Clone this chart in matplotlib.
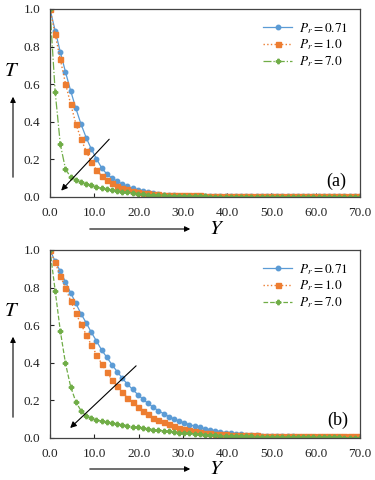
"""
Temperature profiles T(Y) for three Prandtl numbers, panels (a) and (b).
"""

import matplotlib
matplotlib.use('Agg')
import matplotlib.pyplot as plt
import numpy as np

plt.rcParams['font.family'] = 'Liberation Serif'
plt.rcParams['mathtext.fontset'] = 'stix'

# sample grid along Y (61 points, 0 .. 70)
Y = np.linspace(0, 70, 61)

pr_labels = ['$P_r = 0.71$', '$P_r = 1.0$', '$P_r = 7.0$']
x_ticks = [0, 10, 20, 30, 40, 50, 60, 70]
y_ticks = [0.0, 0.2, 0.4, 0.6, 0.8, 1.0]

# panel (a)
T_a_071 = [1.0, 0.885, 0.771, 0.665, 0.565, 0.472, 0.388, 0.316, 0.255, 0.203,
           0.155, 0.122, 0.100, 0.083, 0.068, 0.056, 0.046, 0.038, 0.031, 0.025,
           0.020, 0.016, 0.013, 0.011, 0.009, 0.007, 0.006, 0.005, 0.005, 0.004,
           0.004, 0.004, 0.003, 0.003, 0.003, 0.003, 0.003, 0.003, 0.003, 0.003,
           0.003, 0.003, 0.003, 0.003, 0.003, 0.003, 0.003, 0.003, 0.003, 0.003,
           0.003, 0.003, 0.003, 0.003, 0.003, 0.003, 0.003, 0.003, 0.003, 0.003,
           0.003]
T_a_10 = [1.0, 0.865, 0.732, 0.603, 0.495, 0.390, 0.309, 0.244, 0.188, 0.144,
          0.112, 0.090, 0.073, 0.060, 0.050, 0.041, 0.034, 0.028, 0.023, 0.019,
          0.016, 0.014, 0.012, 0.011, 0.010, 0.009, 0.009, 0.008, 0.008, 0.008,
          0.007, 0.007, 0.007, 0.007, 0.006, 0.006, 0.006, 0.006, 0.006, 0.006,
          0.006, 0.006, 0.006, 0.006, 0.006, 0.006, 0.006, 0.006, 0.006, 0.006,
          0.006, 0.006, 0.006, 0.006, 0.006, 0.006, 0.006, 0.006, 0.006, 0.006,
          0.006]
T_a_70 = [1.0, 0.560, 0.280, 0.149, 0.105, 0.090, 0.080, 0.071, 0.062, 0.052,
          0.046, 0.041, 0.036, 0.032, 0.028, 0.024, 0.021, 0.018, 0.015, 0.013,
          0.011, 0.009, 0.008, 0.007, 0.006, 0.005, 0.004, 0.004, 0.003, 0.003,
          0.003, 0.002, 0.002, 0.002, 0.002, 0.002, 0.002, 0.002, 0.002, 0.002,
          0.002, 0.002, 0.002, 0.002, 0.002, 0.002, 0.002, 0.002, 0.002, 0.002,
          0.002, 0.002, 0.002, 0.002, 0.002, 0.002, 0.002, 0.002, 0.002, 0.002,
          0.002]

# panel (b)
T_b_071 = [1.0, 0.940, 0.887, 0.830, 0.773, 0.716, 0.661, 0.613, 0.562, 0.516,
           0.468, 0.429, 0.390, 0.353, 0.318, 0.286, 0.258, 0.231, 0.206, 0.184,
           0.163, 0.145, 0.129, 0.114, 0.101, 0.090, 0.080, 0.071, 0.063, 0.056,
           0.049, 0.043, 0.038, 0.033, 0.029, 0.026, 0.023, 0.020, 0.018, 0.016,
           0.014, 0.013, 0.012, 0.011, 0.010, 0.009, 0.008, 0.008, 0.007, 0.007,
           0.006, 0.006, 0.006, 0.005, 0.005, 0.005, 0.005, 0.004, 0.004, 0.004,
           0.004]
T_b_10 = [1.0, 0.934, 0.863, 0.798, 0.730, 0.665, 0.605, 0.550, 0.494, 0.444,
          0.395, 0.350, 0.310, 0.277, 0.244, 0.215, 0.189, 0.166, 0.145, 0.126,
          0.109, 0.095, 0.083, 0.072, 0.063, 0.055, 0.048, 0.042, 0.037, 0.033,
          0.029, 0.026, 0.023, 0.021, 0.019, 0.018, 0.017, 0.016, 0.015, 0.014,
          0.014, 0.013, 0.013, 0.012, 0.012, 0.011, 0.011, 0.011, 0.010, 0.010,
          0.010, 0.010, 0.009, 0.009, 0.009, 0.009, 0.009, 0.008, 0.008, 0.008,
          0.008]
T_b_70 = [1.0, 0.784, 0.569, 0.397, 0.273, 0.193, 0.145, 0.118, 0.104, 0.096,
          0.090, 0.085, 0.080, 0.075, 0.070, 0.066, 0.061, 0.057, 0.053, 0.049,
          0.045, 0.042, 0.038, 0.035, 0.032, 0.029, 0.027, 0.024, 0.022, 0.020,
          0.018, 0.016, 0.015, 0.013, 0.012, 0.011, 0.010, 0.009, 0.008, 0.008,
          0.007, 0.007, 0.006, 0.006, 0.005, 0.005, 0.005, 0.004, 0.004, 0.004,
          0.004, 0.003, 0.003, 0.003, 0.003, 0.003, 0.003, 0.002, 0.002, 0.002,
          0.002]

BLUE = '#5B9BD5'
ORANGE = '#ED7D31'
GREEN = '#70AD47'


def panel(ax, t071, t10, t70, green_ls, tag, tag_pos, arrow_from, arrow_to):
    ax.plot(Y, t071, color=BLUE, ls='-', lw=0.9, marker='o', ms=3.2,
            label=pr_labels[0])
    ax.plot(Y, t10, color=ORANGE, ls=':', lw=1.0, marker='s', ms=3.6,
            label=pr_labels[1])
    ax.plot(Y, t70, color=GREEN, ls=green_ls, lw=0.9, marker='P', ms=3.2,
            label=pr_labels[2])
    ax.set_xlim(0, 70)
    ax.set_ylim(0, 1.0)
    ax.set_xticks(x_ticks)
    ax.set_xticklabels(['%.1f' % v for v in x_ticks])
    ax.set_yticks(y_ticks)
    ax.set_yticklabels(['%.1f' % v for v in y_ticks])
    ax.tick_params(direction='in', length=3, width=0.8, labelsize=9.5,
                   colors='#222222', pad=7)
    for s in ax.spines.values():
        s.set_color('#444444')
        s.set_linewidth(0.9)
    ax.legend(loc='upper right', frameon=False, fontsize=9.5, handlelength=2.2,
              handletextpad=0.5, labelspacing=0.15, borderaxespad=0.5)
    ax.text(tag_pos[0], tag_pos[1], tag, fontsize=13, ha='center', va='center')
    ax.annotate('', xy=arrow_to, xytext=arrow_from,
                arrowprops=dict(arrowstyle='-|>', color='black', lw=0.8,
                                mutation_scale=9))


fig = plt.figure(figsize=(3.75, 4.8), dpi=100)
ax_a = fig.add_axes([0.1333, 0.5896, 0.8267, 0.3917])
ax_b = fig.add_axes([0.1333, 0.0875, 0.8267, 0.3917])

panel(ax_a, T_a_071, T_a_10, T_a_70, '-.', '(a)', (64.7, 0.085),
      (13.8, 0.318), (2.1, 0.023))
panel(ax_b, T_b_071, T_b_10, T_b_70, '--', '(b)', (65.0, 0.096),
      (19.9, 0.394), (4.1, 0.043))

W, H = 375.0, 480.0
for top in (0, 240):
    # axis labels with arrows beside them
    fig.text(12 / W, 1 - (top + 72) / H, '$T$', fontsize=15,
             ha='center', va='center')
    fig.text(217 / W, 1 - (top + 229) / H, '$Y$', fontsize=15,
             ha='center', va='center')
    fig.add_artist(matplotlib.patches.FancyArrowPatch(
        (13 / W, 1 - (top + 180) / H), (13 / W, 1 - (top + 94) / H),
        transform=fig.transFigure, arrowstyle='-|>', mutation_scale=8,
        color='black', lw=0.8))
    fig.add_artist(matplotlib.patches.FancyArrowPatch(
        (87 / W, 1 - (top + 229) / H), (193 / W, 1 - (top + 229) / H),
        transform=fig.transFigure, arrowstyle='-|>', mutation_scale=8,
        color='black', lw=0.8))

fig.savefig('out.png', dpi=100)
